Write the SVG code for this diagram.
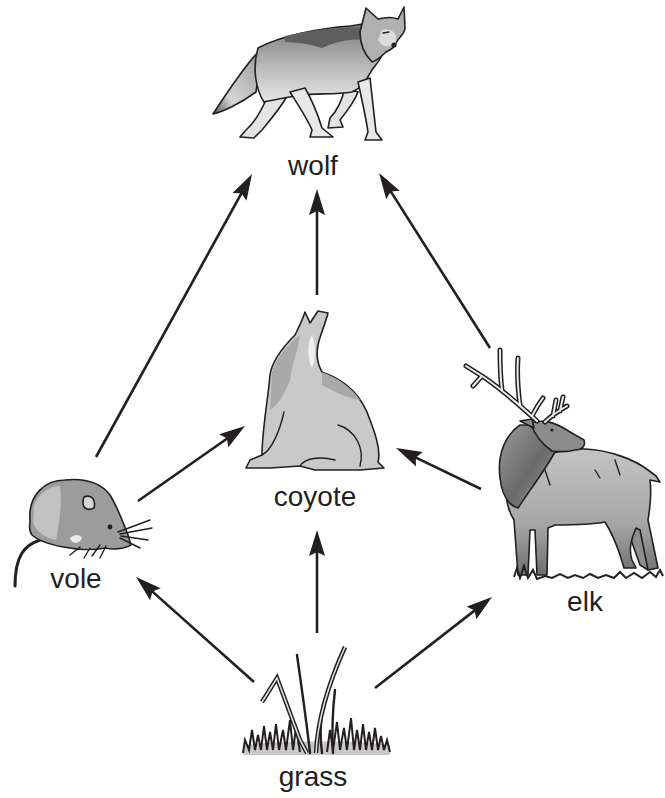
<svg xmlns="http://www.w3.org/2000/svg" width="665" height="798" viewBox="0 0 665 798">
<defs>
<linearGradient id="wg" x1="0" y1="0" x2="0" y2="1"><stop offset="0" stop-color="#7a7a7a"/><stop offset="0.6" stop-color="#bdbdbd"/><stop offset="1" stop-color="#e6e6e6"/></linearGradient>
<linearGradient id="tg" x1="1" y1="0" x2="0" y2="1"><stop offset="0" stop-color="#9a9a9a"/><stop offset="0.7" stop-color="#d6d6d6"/><stop offset="1" stop-color="#555"/></linearGradient>
<linearGradient id="eg" x1="0" y1="0" x2="0" y2="1"><stop offset="0" stop-color="#c4c4c4"/><stop offset="0.6" stop-color="#a6a6a6"/><stop offset="1" stop-color="#6e6e6e"/></linearGradient>
<linearGradient id="ng" x1="0" y1="0" x2="1" y2="1"><stop offset="0" stop-color="#9a9a9a"/><stop offset="0.55" stop-color="#6a6a6a"/><stop offset="1" stop-color="#a0a0a0"/></linearGradient>
<marker id="ah" markerWidth="26" markerHeight="16" refX="16" refY="8" orient="auto" markerUnits="userSpaceOnUse"><path d="M0,0 L26,8 L0,16 L4,8 Z" fill="#231f20"/></marker>
</defs>
<style>
.lbl{font-family:"Liberation Sans",Arial,sans-serif;font-size:28px;fill:#231f20;text-anchor:middle}
.ol{stroke:#231f20;stroke-width:1.6;stroke-linejoin:round}
.ln{fill:none;stroke:#231f20;stroke-width:1.4;stroke-linecap:round}
.conn{stroke:#231f20;stroke-width:2.6;fill:none;marker-end:url(#ah)}
.ant{fill:none;stroke:#231f20;stroke-width:5;stroke-linecap:round}
.ant2{fill:none;stroke:#ececec;stroke-width:2;stroke-linecap:round}
.bl{fill:none;stroke:#231f20;stroke-width:2;stroke-linejoin:miter}
</style>
<rect width="665" height="798" fill="#ffffff"/>

<g id="wolf">
<path class="ol" fill="url(#tg)" d="M260,50 C248,62 232,85 213,114 C222,112 240,104 256,92 C258,78 260,62 260,50 Z"/>
<path class="ol" fill="#e4e4e4" d="M268,95 C262,110 255,122 246,130 L240,137 L254,138 L262,130 C272,118 280,108 286,98 Z"/>
<path class="ol" fill="#e4e4e4" d="M345,88 C342,100 338,110 330,118 L328,128 L343,127 L340,120 C348,110 355,100 358,92 Z"/>
<path class="ol" fill="url(#wg)" d="M258,48 C280,36 320,28 350,26 C358,25 365,24 372,22 L385,45 C384,55 378,62 372,70 C366,80 362,88 352,92 C335,95 318,93 300,95 C285,98 272,100 264,102 C256,90 252,68 258,48 Z"/>
<path fill="#5e5e5e" d="M285,36 C310,30 340,27 362,27 L366,40 C350,38 335,42 322,48 C310,44 298,42 285,42 Z"/>
<path class="ol" fill="#e8e8e8" d="M290,92 C300,108 308,120 312,130 L310,137 L333,137 L322,128 C318,115 312,100 305,88 Z"/>
<path class="ol" fill="#e8e8e8" d="M358,82 C362,100 366,118 368,132 L365,140 L382,140 L376,132 C374,115 372,95 370,78 Z"/>
<path class="ol" fill="#b0b0b0" d="M360,32 L366,8 L378,19 C386,17 393,17 398,19 L404,7 L405,28 C405,34 398,38 396,43 C395,48 390,50 386,52 C382,56 378,60 372,62 C366,56 360,46 360,32 Z"/>
<path fill="#dcdcdc" d="M382,30 C390,28 398,32 396,42 C390,48 382,48 378,40 Z"/>
<circle cx="394" cy="45" r="2.6" fill="#231f20"/>
<path class="ln" d="M383,33 L389,32"/>
<text class="lbl" x="313" y="175">wolf</text>
</g>

<g id="coyote">
<path class="ol" fill="#c9c9c9" d="M305,312 L310,323 L318,311 L328,313 C325,325 320,335 318,345 C316,355 318,365 322,372 C345,380 362,395 370,420 C378,440 380,455 378,462 L384,468 L360,470 L315,470 L300,466 L270,468 L246,468 L250,460 L262,455 C262,430 268,400 270,375 C272,360 285,345 295,335 C300,325 303,318 305,312 Z"/>
<path fill="#a9a9a9" d="M272,372 C278,355 290,342 300,335 C298,350 292,365 290,380 C284,395 278,405 270,410 Z"/>
<path fill="#a9a9a9" d="M322,372 C338,378 352,388 360,400 C345,398 332,390 322,385 Z"/>
<path fill="#f0f0f0" d="M312,335 C316,345 316,360 312,368 C308,360 306,345 312,335 Z"/>
<path class="ln" d="M338,425 C355,430 365,448 360,466"/>
<path class="ln" d="M300,466 C305,458 320,456 335,460"/>
<path class="ln" d="M284,412 C280,430 272,450 262,455"/>
<text class="lbl" x="315" y="506">coyote</text>
</g>

<g id="vole">
<path fill="none" stroke="#231f20" stroke-width="3" stroke-linecap="round" d="M40,540 C25,545 15,555 15,586"/>
<path class="ol" fill="#9c9c9c" d="M30,520 C28,495 45,480 65,480 C85,478 100,482 110,495 C118,508 122,520 128,535 L131,545 C125,548 115,550 105,548 C95,550 80,550 70,548 C55,546 40,542 32,535 C28,530 30,525 30,520 Z"/>
<path fill="#c2c2c2" d="M34,505 C40,492 50,486 60,486 C62,500 60,520 56,540 C45,538 36,532 33,522 Z"/>
<path fill="#ececec" d="M70,538 C74,534 80,534 82,538 C80,544 72,545 70,538 Z"/>
<path class="ol" fill="#d6d6d6" d="M84,497 C81,506 85,512 94,508 C96,500 92,494 84,497 Z"/>
<circle cx="110" cy="527" r="2.4" fill="#231f20"/>
<path class="ln" stroke-width="1" d="M118,532 L150,520 M120,534 L152,528 M121,536 L148,540 M120,538 L140,548 M100,545 L92,556 M106,546 L100,558 M80,547 L70,555 M90,548 L84,558"/>
<text class="lbl" x="76" y="588">vole</text>
</g>

<g id="elk">
<path class="ol" fill="#8e8e8e" d="M624,520 L640,565 L648,570 L655,568 L640,515 Z"/>
<path class="ol" fill="url(#eg)" d="M515,470 C540,455 565,448 585,449 C610,450 635,460 648,470 L656,476 L660,482 L650,480 C652,495 650,508 648,520 L658,568 L648,570 L640,530 L636,528 C632,538 628,548 632,560 L636,568 L624,568 L620,555 C615,540 610,530 605,522 C590,525 570,525 555,525 L548,528 L547,575 L537,575 L535,530 L530,530 L528,575 L518,575 L514,520 C505,505 503,490 515,470 Z"/>
<path class="ol" fill="url(#ng)" d="M520,425 C505,435 497,455 500,478 C502,495 508,505 518,508 C530,490 545,470 555,452 C550,440 540,430 530,425 Z"/>
<path class="ol" fill="#8c8c8c" d="M530,423 C545,418 558,424 570,432 L584,440 C586,446 582,450 575,450 C568,452 560,452 552,451 C543,445 535,435 530,423 Z"/>
<path class="ol" fill="#8c8c8c" d="M534,428 L520,421 L532,419 Z"/>
<circle cx="552" cy="430" r="1.6" fill="#231f20"/>
<path class="ant" d="M537,421 C525,410 505,392 485,378 L466,366 M502,390 C500,375 500,362 500,350 M520,405 C518,390 517,372 518,358 M482,376 L473,386 M532,416 C536,408 540,402 543,398 M545,422 C552,415 560,410 567,406 M553,416 L556,400 M560,411 L563,397"/>
<path class="ant2" d="M537,421 C525,410 505,392 485,378 L466,366 M502,390 C500,375 500,362 500,350 M520,405 C518,390 517,372 518,358 M482,376 L473,386 M532,416 C536,408 540,402 543,398 M545,422 C552,415 560,410 567,406 M553,416 L556,400 M560,411 L563,397"/>
<path class="ln" d="M595,470 L600,478 M615,460 L620,475 M545,470 L550,485"/>
<path class="bl" stroke-width="1.3" d="M514,577 L517,568 L520,578 L524,566 L528,578 L533,570 L537,579 L545,576 L552,578 L560,574 L568,578 L575,575 L583,578 L590,574 L598,578 L606,575 L614,578 L620,572 L626,578 L634,573 L642,578 L650,572 L656,577 L660,570 L663,576"/>
<text class="lbl" x="585" y="611">elk</text>
</g>

<g id="grass">
<path fill="#c8c8c8" d="M243,755 L390,755 L390,745 C350,740 290,740 245,745 Z"/>
<path class="bl" d="M243,753 L245,740 L249,750 L252,730 L255,750 L258,735 L261,750 L264,726 L267,750 L270,732 L273,750 L276,724 L279,750 L283,730 L286,750 L290,720 L293,750 L296,728 L300,752 M327,752 L330,730 L333,750 L337,722 L340,750 L344,728 L347,750 L351,718 L354,750 L357,730 L360,750 L363,724 L366,750 L369,732 L372,750 L375,728 L378,750 L381,736 L384,750 L387,740 L390,752"/>
<path fill="none" stroke="#231f20" stroke-width="2.4" stroke-linecap="round" d="M297,655 C302,690 307,725 310,753 M335,690 C332,715 332,735 333,753 M323,705 C320,725 320,740 322,753"/>
<path fill="none" stroke="#231f20" stroke-width="4.5" stroke-linejoin="miter" d="M262,702 L277,678 L300,740 L307,753 M345,647 C330,680 318,715 316,753"/>
<path fill="none" stroke="#e0e0e0" stroke-width="1.6" stroke-linejoin="miter" d="M262,702 L277,678 L300,740 L307,753 M345,647 C330,680 318,715 316,753"/>
<text class="lbl" x="313" y="786">grass</text>
</g>

<g id="connectors">
<line class="conn" x1="96" y1="457" x2="247.2" y2="182.8"/>
<line class="conn" x1="317" y1="295" x2="317" y2="199"/>
<line class="conn" x1="490" y1="348" x2="384.4" y2="181.4"/>
<line class="conn" x1="138" y1="501" x2="236.8" y2="431.7"/>
<line class="conn" x1="481" y1="489" x2="405" y2="452.3"/>
<line class="conn" x1="254" y1="682" x2="143.5" y2="583.6"/>
<line class="conn" x1="317" y1="633" x2="317" y2="540"/>
<line class="conn" x1="375" y1="688" x2="484.1" y2="603.1"/>
</g>
</svg>
